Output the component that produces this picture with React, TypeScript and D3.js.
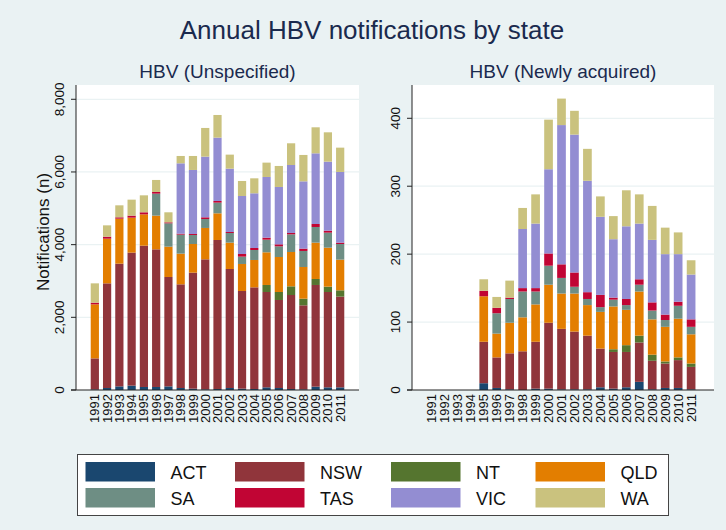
import React from 'react'
import * as d3 from 'd3'

const YEARS = ['1991', '1992', '1993', '1994', '1995', '1996', '1997', '1998', '1999', '2000', '2001',
  '2002', '2003', '2004', '2005', '2006', '2007', '2008', '2009', '2010', '2011']
const STATES = ['ACT', 'NSW', 'NT', 'QLD', 'SA', 'TAS', 'VIC', 'WA']
const COLORS = ['#1a476f', '#90353b', '#55752f', '#e37e00', '#6e8e84', '#c10534', '#938dd2', '#cac27e']

// HBV (Unspecified), one array per state, 1991..2011
const unspecACT = [15, 55, 100, 120, 83, 83, 100, 55, 37, 18, 28, 55, 37, 28, 73, 55, 28, 18, 92, 73, 73]
const unspecNSW = [855, 2880, 3377, 3660, 3889, 3788, 3010, 2853, 3192, 3578, 4100, 3275, 2687, 2797, 2624, 2422, 2586, 2312, 2798, 2624, 2496]
const unspecNT = [0, 0, 0, 0, 0, 0, 0, 0, 0, 0, 0, 0, 0, 0, 193, 220, 239, 183, 165, 147, 174]
const unspecQLD = [1488, 1229, 1238, 963, 862, 927, 835, 844, 789, 863, 734, 725, 744, 753, 899, 963, 945, 872, 1000, 1073, 844]
const unspecSA = [0, 0, 0, 0, 0, 605, 642, 523, 248, 247, 294, 266, 202, 275, 348, 294, 486, 441, 431, 413, 431]
const unspecTAS = [45, 55, 37, 55, 56, 46, 27, 27, 27, 46, 45, 27, 73, 55, 55, 55, 37, 64, 82, 55, 37]
const unspecVIC = [0, 0, 0, 0, 0, 0, 0, 1936, 1762, 1670, 1744, 1743, 1596, 1505, 1670, 1578, 1871, 1852, 1945, 1899, 1945]
const unspecWA = [532, 312, 330, 440, 467, 331, 276, 202, 385, 789, 623, 386, 413, 412, 395, 578, 597, 726, 716, 807, 669]

// HBV (Newly acquired), one array per state, 1991..2011
const newACT = [0, 0, 0, 0, 10, 3, 1, 0, 2, 2, 1, 1, 1, 4, 2, 4, 12, 1, 3, 3, 1]
const newNSW = [0, 0, 0, 0, 61, 45, 53, 57, 69, 97, 89, 85, 79, 57, 54, 52, 58, 42, 36, 41, 33]
const newNT = [0, 0, 0, 0, 0, 0, 0, 0, 0, 0, 0, 0, 0, 0, 4, 10, 10, 9, 3, 4, 5]
const newQLD = [0, 0, 0, 0, 67, 35, 45, 50, 55, 56, 52, 56, 45, 54, 63, 52, 65, 52, 51, 57, 43]
const newSA = [0, 0, 0, 0, 0, 30, 35, 38, 19, 28, 23, 10, 9, 7, 10, 7, 10, 13, 10, 19, 11]
const newTAS = [0, 0, 0, 0, 8, 8, 2, 5, 5, 18, 20, 21, 10, 18, 3, 9, 8, 12, 8, 6, 11]
const newVIC = [0, 0, 0, 0, 0, 0, 0, 87, 95, 124, 205, 203, 164, 115, 86, 107, 82, 92, 89, 70, 66]
const newWA = [0, 0, 0, 0, 17, 16, 25, 31, 43, 73, 39, 35, 47, 30, 34, 53, 43, 50, 39, 32, 21]

const unspecTicks = [0, 2000, 4000, 6000, 8000]
const newTicks = [0, 100, 200, 300, 400]

const FONT = '"Liberation Sans", Arial, Helvetica, sans-serif'
const BG = '#eaf2f3'

function buildRows(series: number[][]) {
  return YEARS.map((year, i) => {
    const row: Record<string, any> = { year }
    STATES.forEach((s, k) => { row[s] = series[k][i] })
    return row
  })
}

interface PanelProps {
  title: string
  x0: number
  x1: number
  barX1: number
  rows: Record<string, any>[]
  yMax: number
  ticks: number[]
}

function Panel({ title, x0, x1, barX1, rows, yMax, ticks }: PanelProps) {
  const top = 85
  const bottom = 390
  const x = d3.scaleBand<string>().domain(YEARS).range([x0, barX1]).paddingInner(0.33).paddingOuter(1.2)
  const y = d3.scaleLinear().domain([0, yMax]).range([bottom, top])
  const stacked = d3.stack<Record<string, any>>().keys(STATES)(rows)
  const fmt = d3.format(',')

  return (
    <g>
      <text x={(x0 + x1) / 2} y={78} textAnchor="middle" fontSize={19} fill="#1a2a4e">{title}</text>
      <rect x={x0} y={top} width={x1 - x0} height={bottom - top} fill="white" />
      {ticks.filter(t => t > 0).map(t => (
        <line key={t} x1={x0} x2={x1} y1={y(t)} y2={y(t)} stroke={BG} strokeWidth={1.2} />
      ))}
      {stacked.map((layer, k) => (
        <g key={layer.key} fill={COLORS[k]}>
          {layer.map((d, i) => {
            const h = y(d[0]) - y(d[1])
            if (h <= 0) return null
            return <rect key={i} x={x(YEARS[i])} y={y(d[1])} width={x.bandwidth()} height={h} />
          })}
        </g>
      ))}
      <line x1={x0} x2={x0} y1={top} y2={bottom} stroke="#222" strokeWidth={1} />
      <line x1={x0 - 5} x2={x1} y1={bottom} y2={bottom} stroke="#222" strokeWidth={1} />
      {ticks.map(t => (
        <g key={t}>
          <line x1={x0 - 5} x2={x0} y1={y(t)} y2={y(t)} stroke="#222" />
          <text transform={`translate(${x0 - 12},${y(t)}) rotate(-90)`} textAnchor="middle"
            fontSize={13.5} fill="#111">{fmt(t)}</text>
        </g>
      ))}
      {YEARS.map(yr => (
        <text key={yr} transform={`translate(${(x(yr) ?? 0) + x.bandwidth() / 2},${bottom + 4}) rotate(-90)`}
          textAnchor="end" dy="0.35em" fontSize={13} fill="#111">{yr}</text>
      ))}
    </g>
  )
}

const LEGEND_COL_X = [85.5, 235, 391, 535.5]
const LEGEND_ROW_Y = [462, 488]

export default function App() {
  const unspecRows = buildRows([unspecACT, unspecNSW, unspecNT, unspecQLD, unspecSA, unspecTAS, unspecVIC, unspecWA])
  const newRows = buildRows([newACT, newNSW, newNT, newQLD, newSA, newTAS, newVIC, newWA])

  return (
    <svg width={726} height={530} style={{ position: 'absolute', left: 0, top: 0, fontFamily: FONT }}>
      <rect width={726} height={530} fill={BG} />
      <text x={372} y={39} textAnchor="middle" fontSize={26} fill="#1a2a4e">Annual HBV notifications by state</text>
      <text transform="translate(49,232) rotate(-90)" textAnchor="middle" fontSize={17} fill="#111">Notifications (n)</text>
      <Panel title="HBV (Unspecified)" x0={76} x1={359} barX1={359} rows={unspecRows} yMax={8393} ticks={unspecTicks} />
      <Panel title="HBV (Newly acquired)" x0={412} x1={714} barX1={711} rows={newRows} yMax={449} ticks={newTicks} />
      <rect x={77.5} y={454.5} width={591} height={61} fill="white" stroke="#444" strokeWidth={1} />
      {STATES.map((s, k) => {
        const cx = LEGEND_COL_X[k % 4]
        const ry = LEGEND_ROW_Y[Math.floor(k / 4)]
        return (
          <g key={s}>
            <rect x={cx} y={ry} width={69.5} height={19.5} fill={COLORS[k]} />
            <text x={cx + 85} y={ry + 16.5} fontSize={18} fill="#111">{s}</text>
          </g>
        )
      })}
    </svg>
  )
}
